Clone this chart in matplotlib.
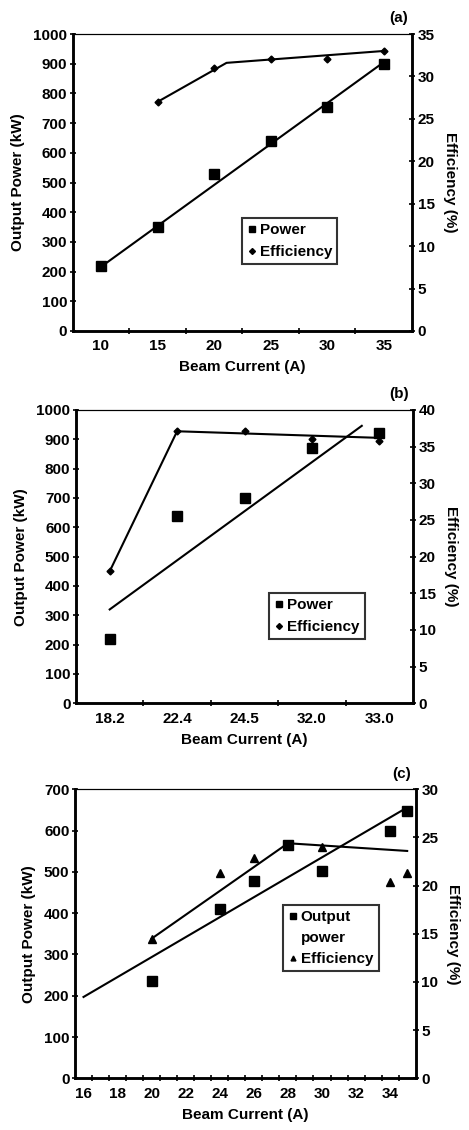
import numpy as np
import matplotlib
matplotlib.use("Agg")
import matplotlib.pyplot as plt
from matplotlib.lines import Line2D

plt.rcParams['font.family'] = ['Liberation Sans', 'DejaVu Sans']
plt.rcParams['font.weight'] = 'bold'
plt.rcParams['axes.labelweight'] = 'bold'
plt.rcParams['font.size'] = 11

# ---- panel (a) ----
a_current = [10, 15, 20, 25, 30, 35]
a_power = [220, 350, 530, 640, 755, 900]
a_eff_current = [15, 20, 25, 30, 35]
a_eff = [27, 31, 32, 32, 33]
a_power_fit_x = [10, 35]
a_power_fit_y = [216, 905]
a_eff_fit_x = [15, 21.1, 35]
a_eff_fit_y = [27, 31.6, 33]

# ---- panel (b) ----
b_labels = ['18.2', '22.4', '24.5', '32.0', '33.0']
b_power = [220, 640, 700, 870, 920]
b_eff = [18, 37.1, 37.1, 36.0, 35.8]
b_power_fit_x = [0, 3.74]
b_power_fit_y = [320, 946]
b_eff_fit_x = [0, 1, 4]
b_eff_fit_y = [18, 37.1, 36.2]

# ---- panel (c) ----
c_current = [20, 24, 26, 28, 30, 34, 35]
c_power = [235, 410, 478, 565, 503, 600, 648]
c_eff = [14.5, 21.3, 22.9, 24.2, 24.0, 20.4, 21.3]
c_power_fit_x = [16, 35]
c_power_fit_y = [197, 656]
c_eff_fit_x = [20, 28, 35]
c_eff_fit_y = [14.5, 24.4, 23.6]

W, H = 469, 1130
fig = plt.figure(figsize=(W / 100, H / 100), dpi=100)


def rect(l, r, t, b):
    return [l / W, 1 - b / H, (r - l) / W, (b - t) / H]


def style(ax, ax2, xlim, labels_at, labels, minor, ymax, ystep, y2max, y2step, tag):
    ax.set_xlim(*xlim)
    ax.set_ylim(0, ymax)
    ax2.set_ylim(0, y2max)
    ax.set_xticks(labels_at)
    ax.set_xticklabels(labels)
    ax.set_xticks(minor, minor=True)
    ax.tick_params(axis='x', which='major', length=0, pad=6)
    ax.tick_params(axis='x', which='minor', length=4, width=1.2, direction='inout')
    ax.set_yticks(np.arange(0, ymax + 1, ystep))
    ax.tick_params(axis='y', length=4, width=1.2, direction='inout', pad=2)
    ax2.set_yticks(np.arange(0, y2max + 1, y2step))
    ax2.tick_params(axis='y', length=4, width=1.2, direction='inout', pad=2)
    for lbl in ax.get_xticklabels() + ax.get_yticklabels() + ax2.get_yticklabels():
        lbl.set_fontweight('bold')
    for a in (ax, ax2):
        for s in ('left', 'right', 'bottom'):
            a.spines[s].set_linewidth(1.8)
        a.spines['top'].set_linewidth(0.8)
    ax.set_xlabel('Beam Current (A)', labelpad=5, fontweight='bold')
    ax.set_ylabel('Output Power (kW)', labelpad=6, fontweight='bold')
    ax2.set_ylabel('Efficiency (%)', rotation=-90, labelpad=16, fontweight='bold')
    ax.text(0.96, 1.03, tag, transform=ax.transAxes, ha='center', va='bottom',
            fontweight='bold')


def legend(ax, handles, texts, x, y, spacing=0.5):
    leg = ax.legend(handles, texts, loc='upper left', bbox_to_anchor=(x, y),
                    frameon=True, fancybox=False, handlelength=0.6,
                    handletextpad=0.2, borderpad=0.35, labelspacing=spacing,
                    borderaxespad=0, prop={'size': 11, 'weight': 'bold'})
    leg.get_frame().set_edgecolor('black')
    leg.get_frame().set_linewidth(1.5)
    leg.set_zorder(10)
    return leg


sq = dict(marker='s', color='black', linestyle='none')

# panel (a)
ax = fig.add_axes(rect(72.7, 412, 34, 331))
ax2 = ax.twinx()
ax.plot(a_current, a_power, markersize=7, **sq)
ax.plot(a_power_fit_x, a_power_fit_y, color='black', lw=1.5)
ax2.plot(a_eff_current, a_eff, marker='D', color='black', linestyle='none', markersize=3.5)
ax2.plot(a_eff_fit_x, a_eff_fit_y, color='black', lw=1.5)
style(ax, ax2, (7.5, 37.5), a_current, [str(v) for v in a_current],
      [12.5, 17.5, 22.5, 27.5, 32.5], 1000, 100, 35, 5, '(a)')
legend(ax2,
       [Line2D([], [], marker='s', markersize=4.5, color='black', linestyle='none'),
        Line2D([], [], marker='D', color='black', linestyle='none', markersize=3)],
       ['Power', 'Efficiency'], 0.499, 0.38)

# panel (b)
b_idx = np.arange(len(b_labels))
ax = fig.add_axes(rect(76, 413, 410, 703.3))
ax2 = ax.twinx()
ax.plot(b_idx, b_power, markersize=7, **sq)
ax.plot(b_power_fit_x, b_power_fit_y, color='black', lw=1.5)
ax2.plot(b_idx, b_eff, marker='D', color='black', linestyle='none', markersize=3.5)
ax2.plot(b_eff_fit_x, b_eff_fit_y, color='black', lw=1.5)
style(ax, ax2, (-0.5, 4.5), b_idx, b_labels, [0.5, 1.5, 2.5, 3.5],
      1000, 100, 40, 5, '(b)')
legend(ax2,
       [Line2D([], [], marker='s', markersize=4.5, color='black', linestyle='none'),
        Line2D([], [], marker='D', color='black', linestyle='none', markersize=3)],
       ['Power', 'Efficiency'], 0.573, 0.376)

# panel (c)
ax = fig.add_axes(rect(75, 415.7, 789.3, 1078.3))
ax2 = ax.twinx()
ax.plot(c_current, c_power, markersize=7, **sq)
ax.plot(c_power_fit_x, c_power_fit_y, color='black', lw=1.5)
ax2.plot(c_current, c_eff, marker='^', color='black', linestyle='none', markersize=6)
ax2.plot(c_eff_fit_x, c_eff_fit_y, color='black', lw=1.5)
style(ax, ax2, (15.5, 35.5), np.arange(16, 35, 2), [str(v) for v in range(16, 35, 2)],
      np.arange(16.5, 35, 1), 700, 100, 30, 5, '(c)')
legend(ax2,
       [Line2D([], [], marker='s', markersize=4.5, color='black', linestyle='none'),
        Line2D([], [], linestyle='none'),
        Line2D([], [], marker='^', color='black', linestyle='none', markersize=3.5)],
       ['Output', 'power', 'Efficiency'], 0.611, 0.6, spacing=0.45)

fig.savefig('out.png', dpi=100)
